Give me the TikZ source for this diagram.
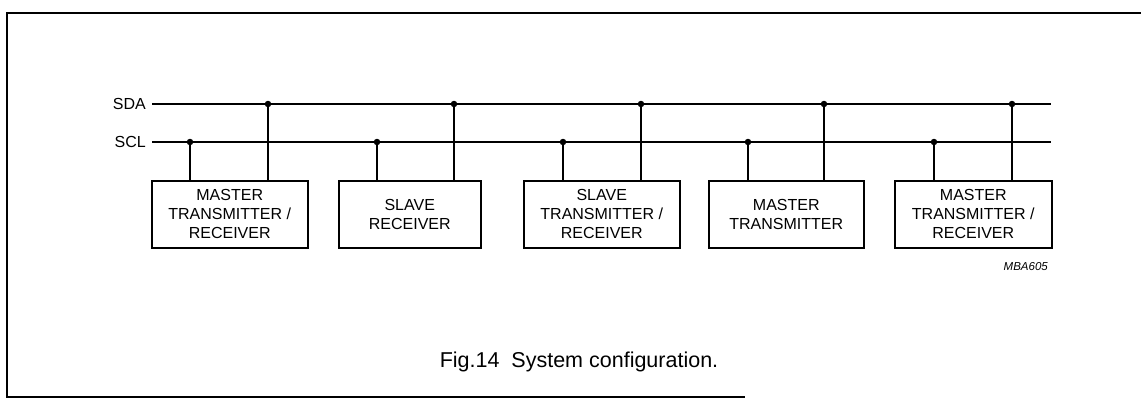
\documentclass[tikz,border=0pt]{standalone}
\usepackage{fontspec}
\setmainfont{Liberation Sans}
\usetikzlibrary{positioning}
\newcommand{\unitfont}{\fontsize{16}{19}\selectfont}
\tikzset{
	unit/.style={draw, rectangle, line width=1.5pt, inner sep=2pt, minimum width=156pt, minimum height=67pt, align=center, anchor=north west, font=\unitfont},
	busname/.style={anchor=east, inner sep=0pt, font=\unitfont},
	wire/.style={line width=1.5pt},
	tapdot/.style={circle, fill=black, inner sep=0pt, minimum size=6.5pt},
	frame/.style={line width=1.5pt},
}
\begin{document}
\begin{tikzpicture}[x=1pt, y=-1pt]
	\useasboundingbox (0,0) rectangle (1141,404);
	% frame of the figure
	\draw[frame] (1141,13) -- (7,13) -- (7,397) -- (745,397);

	% bus lines
	\node (sda) [busname] at (146,104) {SDA};
	\node (scl) [busname] at (146,142) {SCL};
	\coordinate (sdaend) at (1051,104);
	\coordinate (sclend) at (1051,142);
	\draw[wire] ([xshift=6pt]sda.east) -- (sdaend);
	\draw[wire] ([xshift=6pt]scl.east) -- (sclend);

	% devices on the bus
	\node (u1) [unit] at (151,180) {MASTER\\TRANSMITTER /\\RECEIVER};
	\node (u2) [unit, minimum width=142pt] at (338,180) {SLAVE\\RECEIVER};
	\node (u3) [unit] at (523,180) {SLAVE\\TRANSMITTER /\\RECEIVER};
	\node (u4) [unit, minimum width=155pt] at (708,180) {MASTER\\TRANSMITTER};
	\node (u5) [unit, minimum width=157pt] at (894,180) {MASTER\\TRANSMITTER /\\RECEIVER};

	% connection points
	\node (c1) [tapdot] at (190,142) {};
	\node (d1) [tapdot] at (268,104) {};
	\node (c2) [tapdot] at (377,142) {};
	\node (d2) [tapdot] at (454,104) {};
	\node (c3) [tapdot] at (563,142) {};
	\node (d3) [tapdot] at (641,104) {};
	\node (c4) [tapdot] at (748,142) {};
	\node (d4) [tapdot] at (824,104) {};
	\node (c5) [tapdot] at (934,142) {};
	\node (d5) [tapdot] at (1012,104) {};

	\begin{scope}[wire]
		\foreach \i in {1,...,5} {
			\draw (c\i.center) -- (c\i |- u\i.north);
			\draw (d\i.center) -- (d\i |- u\i.north);
		}
	\end{scope}

	\node (code) [anchor=north east, inner sep=0pt, font=\fontsize{11.5}{13}\selectfont\itshape] at (1048,262) {MBA605};

	\node (caption) [font=\fontsize{21.5}{25}\selectfont] at (579,362) {Fig.14\ \ System configuration.};
\end{tikzpicture}
\end{document}
